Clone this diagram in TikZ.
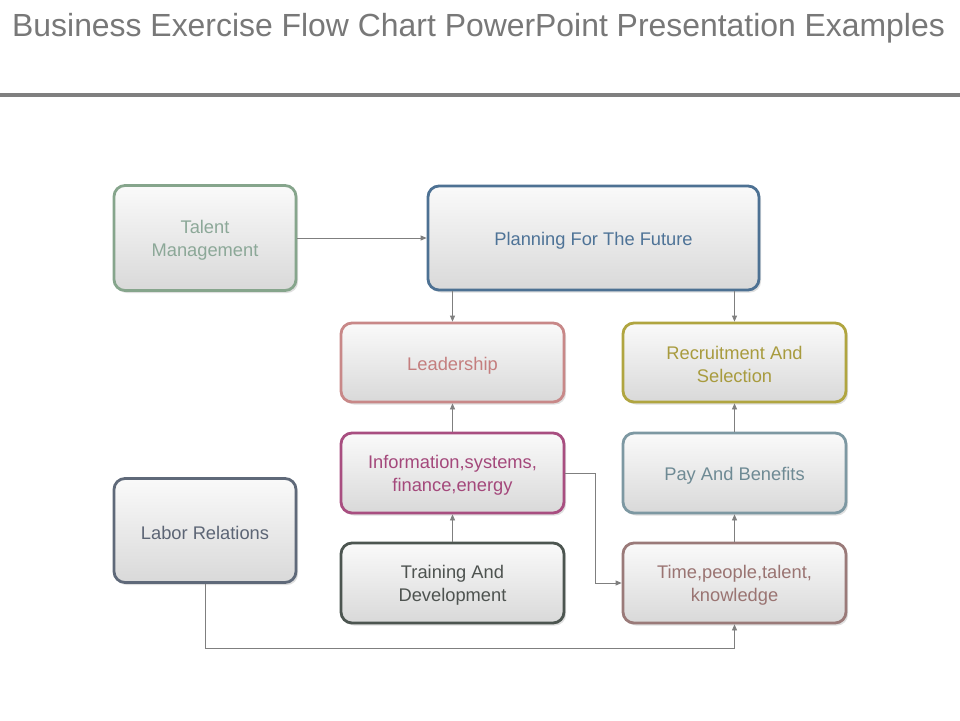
\documentclass[tikz,border=0pt]{standalone}
\usepackage{fontspec}
\setmainfont{Liberation Sans}
\usetikzlibrary{shadows,arrows.meta}
\definecolor{cTal}{HTML}{86A58C}
\definecolor{cPlan}{HTML}{4D7193}
\definecolor{cLead}{HTML}{C88888}
\definecolor{cRec}{HTML}{B0A540}
\definecolor{cInfo}{HTML}{A84E80}
\definecolor{cPay}{HTML}{7D98A2}
\definecolor{cLab}{HTML}{5F6979}
\definecolor{cTrain}{HTML}{4C5550}
\definecolor{cTime}{HTML}{9A7A79}
\definecolor{tTal}{HTML}{8CA898}
\definecolor{tPlan}{HTML}{4E7397}
\definecolor{tLead}{HTML}{C47E7E}
\definecolor{tRec}{HTML}{A89B3E}
\definecolor{tInfo}{HTML}{A4487B}
\definecolor{tPay}{HTML}{6E8A94}
\definecolor{tLab}{HTML}{5C6575}
\definecolor{tTrain}{HTML}{4E5350}
\definecolor{tTime}{HTML}{9A7472}
\definecolor{lineg}{HTML}{7F7F7F}
\tikzset{
  fbox/.style={draw=#1, line width=2.8pt, rounded corners=11pt,
    top color=white!96!gray, bottom color=black!15,
    drop shadow={opacity=0.25, shadow xshift=2pt, shadow yshift=-2.5pt},
    align=center, font=\fontsize{18.3}{23}\selectfont, inner sep=0pt},
  oneline/.style={text height=19pt},
  twoline/.style={text height=40pt},
  conn/.style={draw=lineg, line width=0.8pt, -{Triangle[length=6pt,width=5pt]}}
}
\begin{document}
\begin{tikzpicture}[x=1pt,y=-1pt]
\useasboundingbox (0,0) rectangle (960,720);
\fill[white] (0,0) rectangle (960,720);
\node[text=black!53, font=\fontsize{32}{36}\selectfont, anchor=west, inner sep=0pt, xscale=0.997] (title) at (12,28) {Business Exercise Flow Chart PowerPoint Presentation Examples};
\fill[lineg] (0,93) rectangle (960,97);
\node[fbox=cTal, twoline, text=tTal, minimum width=182pt, minimum height=105pt] (tal) at (205,238) {Talent\\Management};
\node[fbox=cPlan, oneline, text=tPlan, minimum width=331pt, minimum height=104pt] (plan) at (593.5,238) {Planning For The Future};
\node[fbox=cLead, oneline, text=tLead, minimum width=223pt, minimum height=79pt] (lead) at (452.5,362.5) {Leadership};
\node[fbox=cRec, twoline, text=tRec, minimum width=223pt, minimum height=79pt] (rec) at (734.5,362.5) {Recruitment And\\Selection};
\node[fbox=cInfo, twoline, text=tInfo, minimum width=223pt, minimum height=80pt] (info) at (452.5,473) {Information,systems,\\finance,energy};
\node[fbox=cPay, oneline, text=tPay, minimum width=223pt, minimum height=80pt] (pay) at (734.5,473) {Pay And Benefits};
\node[fbox=cLab, oneline, text=tLab, minimum width=182pt, minimum height=104pt] (lab) at (205,530.5) {Labor Relations};
\node[fbox=cTrain, twoline, text=tTrain, minimum width=223pt, minimum height=80pt] (train) at (452.5,583) {Training And\\Development};
\node[fbox=cTime, twoline, text=tTime, minimum width=223pt, minimum height=80pt] (time) at (734.5,583) {Time,people,talent,\\knowledge};
\coordinate (c1) at (595,473);
\coordinate (c2) at (205,648);
\draw[conn] (tal.east) -- (plan.west);
\draw[conn] (plan.south -| lead) -- (lead.north);
\draw[conn] (plan.south -| rec) -- (rec.north);
\draw[conn] (info) -- (lead);
\draw[conn] (train) -- (info);
\draw[conn] (pay) -- (rec);
\draw[conn] (time) -- (pay);
\draw[conn] (info.east) -- (c1) |- (time.west);
\draw[conn] (lab.south) -- (c2) -| (time.south);
\end{tikzpicture}
\end{document}
